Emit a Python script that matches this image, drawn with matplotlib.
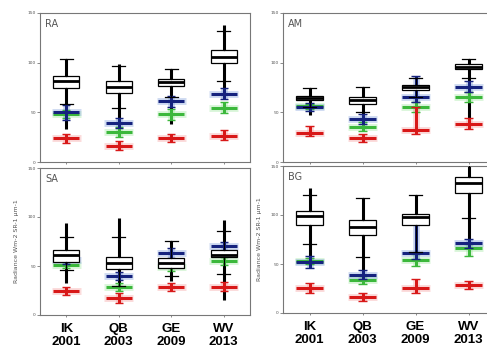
import numpy as np
import matplotlib
matplotlib.use("Agg")
from matplotlib import pyplot as plt

# sensors on the x axis
sensors = ["IK\n2001", "QB\n2003", "GE\n2009", "WV\n2013"]
panels = ["RA", "AM", "SA", "BG"]

# black box plots: (whisker low, q1, median, q3, whisker high)
ra_box = [(58, 74.5, 81.5, 86.5, 104), (54, 69.5, 75.5, 81.5, 97), (65, 76.5, 80.5, 83.5, 93.5), (81.5, 99.7, 105.7, 113, 132)]
am_box = [(55, 62.4, 64.5, 66.5, 75), (50, 58.4, 62.4, 65.5, 75.5), (65, 72.5, 75.5, 77.5, 85), (85, 93.6, 95.7, 98.7, 103.7)]
sa_box = [(46, 54, 61, 66, 80), (30, 47, 53, 59, 80), (40, 48, 53, 58, 76), (42, 59, 61, 66, 86)]
bg_box = [(70, 90, 99, 104, 120), (57, 80, 88, 95, 117), (62, 90, 98, 101, 120), (97, 122, 133, 139, 160)]

# black outlier extents: (lowest, highest)
ra_out = [(33, 104), (40, 99), (38, 93.5), (70, 138)]
am_out = [(47, 75), (40, 75.5), (60, 85), (40, 103.7)]
sa_out = [(33, 94), (25, 99), (35, 76), (15, 97)]
bg_out = [(48, 127.5), (40, 117), (62, 120), (70, 160)]

# coloured series: (low, median, high)
ra_blue = [(42, 50, 57), (34, 39, 44), (55, 61, 66), (63, 68.5, 74)]
ra_green = [(44, 48, 52), (25, 30, 35), (42, 48, 53), (49, 54.4, 60)]
ra_red = [(19, 24, 28), (12, 16, 21), (20, 24, 28), (22, 26, 32)]

am_blue = [(51, 55.4, 59), (38, 43.3, 48), (60, 65.5, 87), (70, 75.5, 82)]
am_green = [(53, 56, 58), (31, 35, 40), (50, 55.4, 60), (60, 65.5, 70)]
am_red = [(26, 29, 36), (20, 24, 28), (28, 32, 55), (33, 38.3, 44)]

sa_blue = [(52, 56, 60), (36, 40, 44), (58, 63, 68), (65, 70, 75)]
sa_green = [(48, 51, 54), (25, 29, 33), (45, 49, 53), (51, 55, 59)]
sa_red = [(20, 24.5, 29), (12, 17, 22), (24, 29, 33), (24, 29, 34)]

bg_blue = [(46, 52, 58), (35, 39, 44), (55, 61, 98), (66, 71, 76)]
bg_green = [(50, 53, 56), (30, 34, 38), (48, 54, 60), (58, 66, 70)]
bg_red = [(20, 25.5, 31), (12, 16, 20), (20, 25.5, 35), (24, 28.5, 33)]

W, H = 487, 352
fig = plt.figure(figsize=(W / 100, H / 100), dpi=100)

def rect(l, r, t, b):
    return [l / W, 1 - b / H, (r - l) / W, (b - t) / H]

# 画一个子图
def panel(pos, name, box, out, blue, green, red, bottom):
    ax = fig.add_axes(pos)
    x = np.arange(1, 5)
    # 黑色异常值
    for xi, (lo, hi) in zip(x, out):
        ax.vlines(xi, lo, hi, color="black", lw=2.2, zorder=2)
    # 彩色系列
    for data, col, halo in [(green, "#3cb83c", "#a8eaa8"), (blue, "#16237e", "#8aa8e0"), (red, "#d81818", "#f6a8a8")]:
        for xi, (lo, med, hi) in zip(x, data):
            ax.vlines(xi, lo, hi, color=halo, lw=5, alpha=0.4, zorder=3)
            ax.hlines(med, xi - 0.28, xi + 0.28, color=halo, lw=5, alpha=0.4, zorder=3)
            ax.vlines(xi, lo, hi, color=col, lw=2.2, zorder=4)
            ax.hlines(med, xi - 0.25, xi + 0.25, color=col, lw=2.2, zorder=4)
            ax.hlines([lo, hi], xi - 0.08, xi + 0.08, color=col, lw=1, zorder=4)
    # 黑色箱线图
    stats = [dict(whislo=b[0], q1=b[1], med=b[2], q3=b[3], whishi=b[4], fliers=[]) for b in box]
    ax.bxp(stats, positions=x, widths=0.5, patch_artist=True, showfliers=False,
           boxprops=dict(facecolor="white", edgecolor="black", lw=0.9),
           medianprops=dict(color="black", lw=2),
           whiskerprops=dict(color="black", lw=0.9),
           capprops=dict(color="black", lw=0.9), zorder=5)
    ax.set_xlim(0.5, 4.5)
    ax.set_ylim(0, 150)
    ax.set_yticks([0, 50, 100, 150])
    ax.tick_params(axis="y", labelsize=3.2, labelcolor="#555555", length=2, width=0.6, pad=1, color="#777777")
    ax.set_xticks(x)
    if bottom:
        ax.set_xticklabels(sensors, fontsize=9.5, fontweight="bold",
                           family=["Liberation Sans Narrow", "Liberation Sans"], linespacing=1.15)
        ax.tick_params(axis="x", length=1.5, width=0.6, pad=4, color="#777777")
        ax.set_ylabel("Radiance Wm-2 SR-1 µm-1", fontsize=4.5, color="#555555", labelpad=6)
    else:
        ax.set_xticklabels([])
        ax.tick_params(axis="x", length=1.5, width=0.6, color="#777777")
    for s in ax.spines.values():
        s.set_color("#777777")
        s.set_linewidth(0.8)
    ax.text(0.025, 0.96, name, transform=ax.transAxes, fontsize=7, color="#555555", va="top")
    return ax

panel(rect(40, 250, 13, 162), "RA", ra_box, ra_out, ra_blue, ra_green, ra_red, False)
panel(rect(283, 495, 13, 162), "AM", am_box, am_out, am_blue, am_green, am_red, False)
panel(rect(40, 250, 168, 315), "SA", sa_box, sa_out, sa_blue, sa_green, sa_red, True)
panel(rect(283, 495, 166, 313), "BG", bg_box, bg_out, bg_blue, bg_green, bg_red, True)

fig.savefig("out.png", dpi=100)
